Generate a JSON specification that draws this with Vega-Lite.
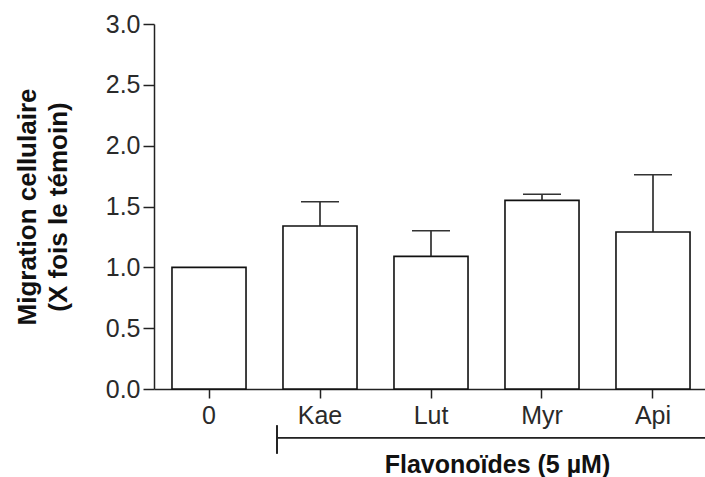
{
  "$schema": "https://vega.github.io/schema/vega-lite/v6.json",
  "width": 554,
  "height": 365,
  "autosize": "none",
  "padding": {"left": 154, "top": 24, "right": 0, "bottom": 88},
  "config": {
    "view": {"stroke": null},
    "font": "Liberation Sans",
    "axis": {"labelFontSize": 25, "labelColor": "#2a2a2a", "tickColor": "#222",
      "domainColor": "#222", "domainWidth": 1.5, "tickWidth": 1.5, "grid": false,
      "titleFontWeight": "bold", "titleColor": "#111"},
    "axisX": {"labelAngle": 0, "labelPadding": 5, "tickSize": 9, "titleFontSize": 25, "titleX": 343, "titleY": 83,
      "titleBaseline": "alphabetic", "titleAlign": "center"},
    "axisY": {"labelPadding": 3, "tickSize": 11, "titleFontSize": 26, "titlePadding": 34, "titleLineHeight": 31}
  },
  "data": {"values": [
    {"g": "0", "v": 1.0},
    {"g": "Kae", "v": 1.34, "up": 1.54},
    {"g": "Lut", "v": 1.09, "up": 1.30},
    {"g": "Myr", "v": 1.55, "up": 1.60},
    {"g": "Api", "v": 1.29, "up": 1.76}
  ]},
  "layer": [
    {
      "mark": {"type": "bar", "fill": "white", "stroke": "#111", "strokeWidth": 1.6},
      "encoding": {
        "x": {"field": "g", "type": "nominal", "sort": null,
          "scale": {"paddingInner": 0.333, "paddingOuter": 0.162},
          "title": "Flavonoïdes (5 µM)"},
        "y": {"field": "v", "type": "quantitative", "scale": {"domain": [0, 3], "nice": false},
          "axis": {"values": [0, 0.5, 1, 1.5, 2, 2.5, 3], "format": ".1f"},
          "title": ["Migration cellulaire", "(X fois le témoin)"]}
      }
    },
    {
      "transform": [{"filter": "datum.up != null"}],
      "mark": {"type": "rule", "stroke": "#222", "strokeWidth": 1.6},
      "encoding": {
        "x": {"field": "g", "type": "nominal", "sort": null, "title": "Flavonoïdes (5 µM)"},
        "y": {"field": "v", "type": "quantitative", "title": ["Migration cellulaire", "(X fois le témoin)"]},
        "y2": {"field": "up"}
      }
    },
    {
      "transform": [{"filter": "datum.up != null"}],
      "mark": {"type": "tick", "size": 38, "thickness": 1.5, "color": "#333", "opacity": 1},
      "encoding": {
        "x": {"field": "g", "type": "nominal", "sort": null, "title": "Flavonoïdes (5 µM)"},
        "y": {"field": "up", "type": "quantitative", "title": ["Migration cellulaire", "(X fois le témoin)"]}
      }
    },
    {
      "mark": {"type": "rule", "stroke": "#222", "strokeWidth": 1.2, "xOffset": -6, "x2Offset": 20},
      "encoding": {
        "x": {"datum": "Kae", "type": "nominal", "bandPosition": 0, "title": "Flavonoïdes (5 µM)"},
        "x2": {"datum": "Api", "bandPosition": 1},
        "y": {"datum": -0.4, "type": "quantitative", "title": ["Migration cellulaire", "(X fois le témoin)"]}
      }
    },
    {
      "mark": {"type": "rule", "stroke": "#222", "strokeWidth": 1.2, "xOffset": -6},
      "encoding": {
        "x": {"datum": "Kae", "type": "nominal", "bandPosition": 0, "title": "Flavonoïdes (5 µM)"},
        "y": {"datum": -0.3, "type": "quantitative", "title": ["Migration cellulaire", "(X fois le témoin)"]},
        "y2": {"datum": -0.53}
      }
    }
  ]
}
